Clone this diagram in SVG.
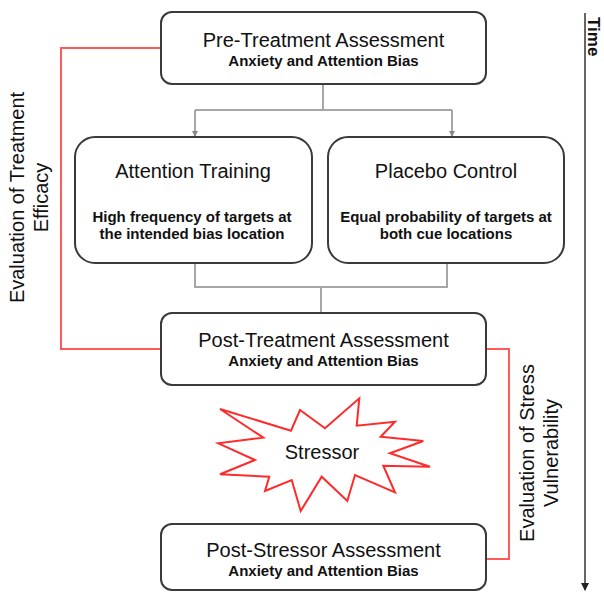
<svg xmlns="http://www.w3.org/2000/svg" width="604" height="592" viewBox="0 0 604 592">
<defs>
<style>
.box{fill:#fff;stroke:#3a3a3a;stroke-width:2}
.title{font-family:"Liberation Sans",Arial,sans-serif;font-size:20px;fill:#111;text-anchor:middle}
.sub{font-family:"Liberation Sans",Arial,sans-serif;font-size:15px;font-weight:bold;fill:#111;text-anchor:middle}
.side{font-family:"Liberation Sans",Arial,sans-serif;font-size:20px;fill:#111;text-anchor:middle}
.gray{fill:none;stroke:#a6a6a6;stroke-width:2}
.red{fill:none;stroke:#ff5a5a;stroke-width:2}
</style>
<marker id="ah" viewBox="0 0 6 6" refX="5" refY="3" markerWidth="6" markerHeight="6" markerUnits="userSpaceOnUse" orient="auto">
<path d="M0,0 L6,3 L0,6 Z" fill="#8a8a8a"/>
</marker>
<marker id="ta" viewBox="0 0 8 8" refX="7" refY="4" markerWidth="8" markerHeight="8" markerUnits="userSpaceOnUse" orient="auto">
<path d="M0,0 L8,4 L0,8 Z" fill="#222"/>
</marker>
</defs>
<rect width="604" height="592" fill="#fff"/>
<g id="connectors">
<path class="gray" d="M323,84 V110"/>
<path class="gray" d="M195,110 H452"/>
<path class="gray" d="M195,110 V136" marker-end="url(#ah)"/>
<path class="gray" d="M452,110 V136" marker-end="url(#ah)"/>
<path class="gray" d="M195,263 V287 H447 V263"/>
<path class="gray" d="M321,287 V313"/>
<path class="red" d="M161,48 H61 V349 H161"/>
<path class="red" d="M486,349 H509 V559 H486"/>
<path d="M585,13 V590" stroke="#333" stroke-width="1.5" fill="none" marker-end="url(#ta)"/>
</g>
<g id="pre">
<rect class="box" x="161" y="12" width="325" height="72" rx="11"/>
<text class="title" x="323.5" y="47">Pre-Treatment Assessment</text>
<text class="sub" x="323.5" y="66">Anxiety and Attention Bias</text>
</g>
<g id="training">
<rect class="box" x="75" y="137" width="237" height="126" rx="20"/>
<text class="title" x="193" y="178">Attention Training</text>
<text class="sub" x="192" y="222">High frequency of targets at</text>
<text class="sub" x="192" y="239">the intended bias location</text>
</g>
<g id="placebo">
<rect class="box" x="328" y="137" width="236" height="126" rx="20"/>
<text class="title" x="446" y="178">Placebo Control</text>
<text class="sub" x="446" y="222">Equal probability of targets at</text>
<text class="sub" x="446" y="239">both cue locations</text>
</g>
<g id="post">
<rect class="box" x="161" y="313" width="325" height="72" rx="11"/>
<text class="title" x="323.5" y="347">Post-Treatment Assessment</text>
<text class="sub" x="323.5" y="366">Anxiety and Attention Bias</text>
</g>
<g id="stressor">
<polygon points="220,409 291,430.7 300,410 325,428.3 359.3,398.3 356.7,425.7 395,421.7 380.7,436.7 423.3,441 390,453.3 430,466.7 383.3,465.7 395,492.3 355,475 347.3,501 321.7,476.7 300.7,511 291.7,480 265,491 269.3,476.7 220,474.3 255,460 218.3,443.3 263.3,437.7" fill="#fff" stroke="#ff2a2a" stroke-width="2" stroke-linejoin="miter"/>
<text class="title" x="322" y="459">Stressor</text>
</g>
<g id="poststress">
<rect class="box" x="161" y="524" width="325" height="66" rx="11"/>
<text class="title" x="323.5" y="557">Post-Stressor Assessment</text>
<text class="sub" x="323.5" y="576">Anxiety and Attention Bias</text>
</g>
<g id="labels">
<text class="side" transform="translate(24,197.5) rotate(-90)">Evaluation of Treatment</text>
<text class="side" transform="translate(48,197.5) rotate(-90)">Efficacy</text>
<text class="side" transform="translate(533.5,453) rotate(-90)">Evaluation of Stress</text>
<text class="side" transform="translate(557.5,453) rotate(-90)">Vulnerability</text>
<text transform="translate(588,17) rotate(90)" font-family="Liberation Sans, Arial, sans-serif" font-size="17" font-weight="bold" fill="#111">Time</text>
</g>
</svg>
